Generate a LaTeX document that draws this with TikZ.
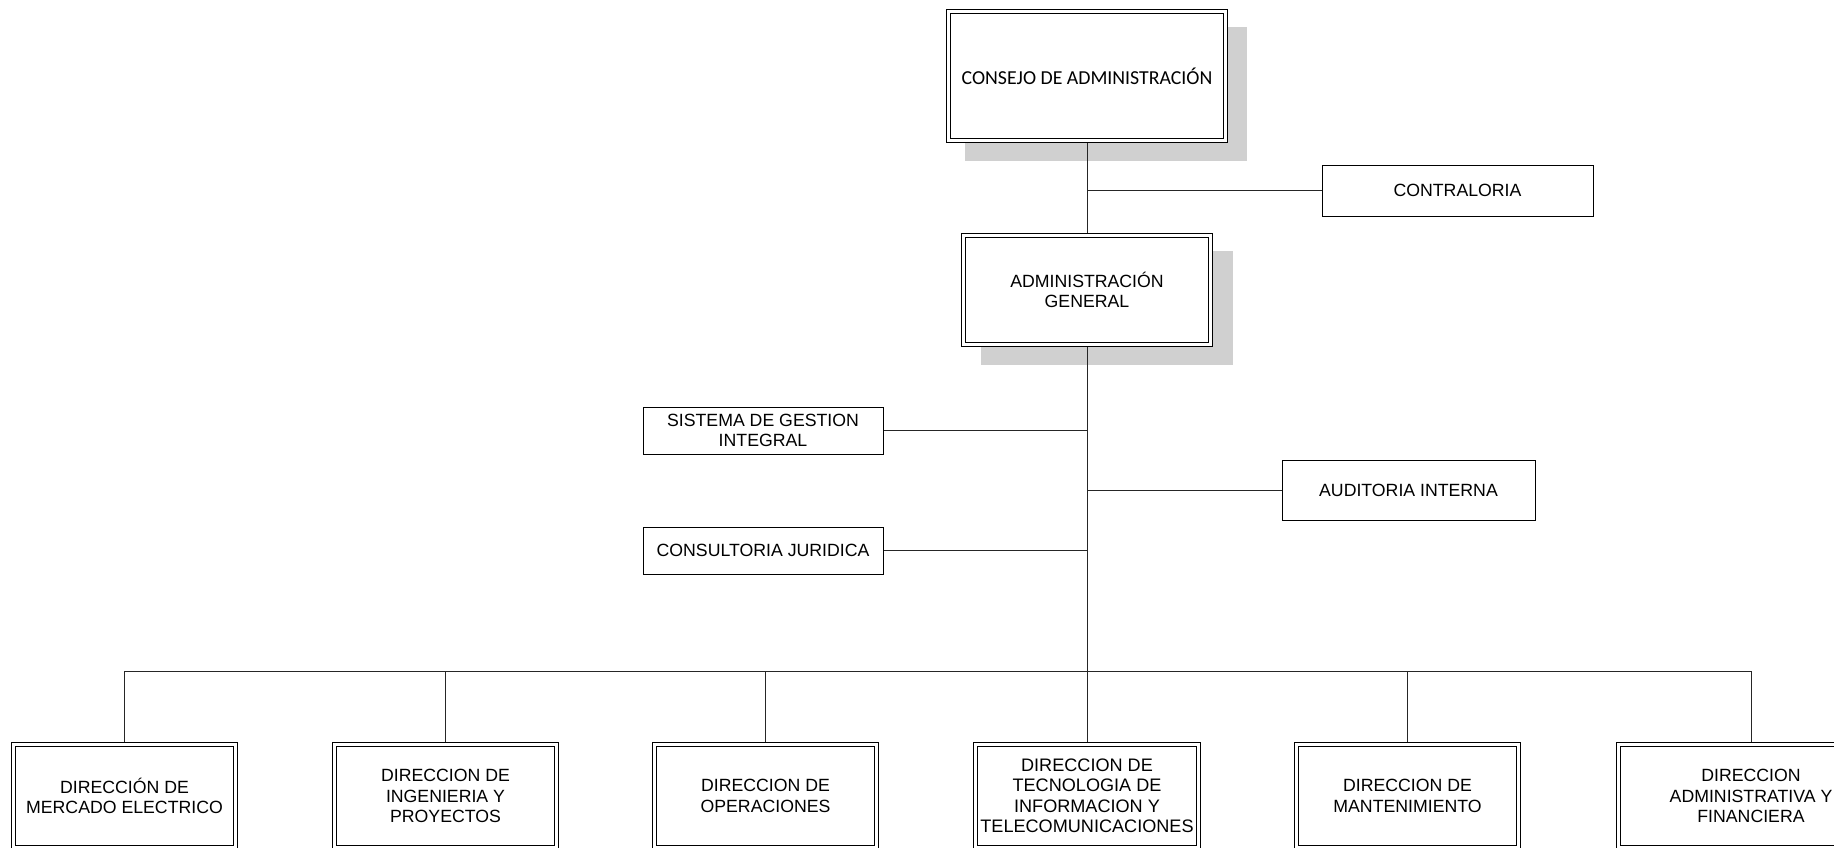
\documentclass[tikz,border=0pt]{standalone}
\usepackage{fontspec}
\setmainfont{Liberation Sans}
\newfontfamily\calibrifont{Carlito}
\definecolor{shadowgray}{RGB}{208,208,208}
\pgfdeclarelayer{background}
\pgfsetlayers{background,main}
\begin{document}
\begin{tikzpicture}[x=1pt,y=-1pt,
  every node/.style={font=\fontsize{17.7}{20.5}\selectfont, align=center, inner sep=0pt},
  single/.style={draw, line width=1pt, fill=white},
  dbl/.style={draw, line width=1pt, double, double distance=3pt, fill=white, outer sep=2.5pt},
  shade/.style={fill=shadowgray},
  link/.style={line width=1pt, black!85}]
\useasboundingbox (0,0) rectangle (1834,847);

% top boxes
\node[dbl, minimum width=277pt, minimum height=129pt,
      font=\calibrifont\fontsize{19.8}{23}\selectfont] (cda) at (1087,76) {CONSEJO DE ADMINISTRACIÓN};
\node[dbl, minimum width=247pt, minimum height=109pt] (ag) at (1087,290) {ADMINISTRACIÓN\\GENERAL};

\begin{pgfonlayer}{background}
\fill[shade] ([shift={(19pt,-17.5pt)}]cda.south west) rectangle ([shift={(19pt,-17.5pt)}]cda.north east);
\fill[shade] ([shift={(19.5pt,-18pt)}]ag.south west) rectangle ([shift={(19.5pt,-18pt)}]ag.north east);
\end{pgfonlayer}

% staff boxes
\node[single, minimum width=271pt, minimum height=51pt] (cont) at (1457.5,190.5) {CONTRALORIA};
\node[single, minimum width=240pt, minimum height=47pt] (sgi) at (763,430.5) {SISTEMA DE GESTION\\INTEGRAL};
\node[single, minimum width=240pt, minimum height=47pt] (cj) at (763,550.5) {CONSULTORIA JURIDICA};
\node[single, minimum width=253pt, minimum height=60pt] (aud) at (1408.5,490) {AUDITORIA INTERNA};

% bottom boxes
\node[dbl, minimum width=222pt, minimum height=103pt] (d1) at (124.5,796) {DIRECCIÓN DE\\MERCADO ELECTRICO};
\node[dbl, minimum width=222pt, minimum height=103pt] (d2) at (445.5,796) {DIRECCION DE\\INGENIERIA Y\\PROYECTOS};
\node[dbl, minimum width=222pt, minimum height=103pt] (d3) at (765.5,796) {DIRECCION DE\\OPERACIONES};
\node[dbl, minimum width=223pt, minimum height=103pt, font=\fontsize{18.1}{20.5}\selectfont] (d4) at (1087,796) {DIRECCION DE\\TECNOLOGIA DE\\INFORMACION Y\\TELECOMUNICACIONES};
\node[dbl, minimum width=222pt, minimum height=103pt] (d5) at (1407.5,796) {DIRECCION DE\\MANTENIMIENTO};
\node[dbl, minimum width=265pt, minimum height=103pt] (d6) at (1751,796) {DIRECCION\\ADMINISTRATIVA Y\\FINANCIERA};

\coordinate (bus) at (1087,671);

% connectors
\draw[link] (cda.south) -- (ag.north);
\draw[link] (cont.west) -- (cont.west -| cda.south);
\draw[link] (ag.south) -- (bus);
\draw[link] (sgi.east) -- (sgi.east -| ag.south);
\draw[link] (cj.east) -- (cj.east -| ag.south);
\draw[link] (aud.west) -- (aud.west -| ag.south);
\draw[link] (d1.north) |- (bus) -| (d6.north);
\draw[link] (bus -| d2.north) -- (d2.north);
\draw[link] (bus -| d3.north) -- (d3.north);
\draw[link] (bus) -- (d4.north);
\draw[link] (bus -| d5.north) -- (d5.north);
\end{tikzpicture}
\end{document}
